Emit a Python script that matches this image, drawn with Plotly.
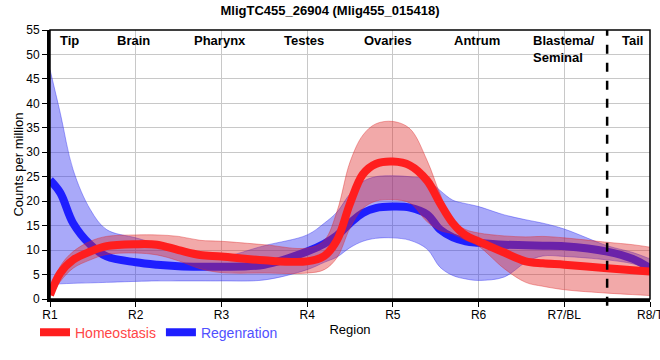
import plotly.graph_objects as go

# Region positions (1 = R1 ... 8 = R8/T) at which the smoothed profiles were read
positions = [1, 1.12, 1.27, 1.47, 1.66, 2, 2.25, 2.5, 2.75, 3, 3.5, 4, 4.2, 4.35, 4.5,
             4.65, 4.8, 5, 5.2, 5.4, 5.55, 5.7, 5.85, 6, 6.3, 6.55, 6.75, 7, 7.5, 7.8, 8]

homeo_mean = [0.8, 5.3, 8.0, 9.7, 10.8, 11.2, 11.1, 10.0, 9.0, 8.7, 7.9, 7.7, 8.8, 12.1, 19.5,
              25.5, 27.6, 28.1, 27.3, 24.2, 19.6, 15.5, 13.0, 11.8, 9.5, 7.7, 7.3, 7.0, 6.3, 5.9, 5.6]
homeo_upper = [1.2, 6.7, 9.7, 11.8, 12.8, 13.1, 13.1, 12.8, 12.0, 11.8, 11.1, 10.4, 12.0, 18.0, 28.0,
               33.5, 35.8, 36.3, 34.8, 28.3, 21.5, 16.0, 14.2, 13.5, 12.9, 12.7, 12.8, 12.5, 11.6, 11.1, 10.6]
homeo_lower = [0.4, 3.6, 6.3, 8.0, 9.1, 9.4, 9.0, 7.8, 6.2, 5.4, 5.3, 5.3, 6.0, 8.5, 14.5,
               18.5, 20.0, 20.3, 19.6, 15.8, 14.0, 13.3, 12.0, 10.8, 6.2, 3.4, 2.6, 1.9, 1.2, 0.9, 0.7]

regen_mean = [24.3, 21.7, 15.5, 11.1, 8.7, 7.5, 7.0, 6.7, 6.6, 6.6, 7.0, 9.7, 11.3, 13.0, 15.5,
              17.6, 18.6, 18.9, 18.7, 17.3, 14.2, 12.6, 11.8, 11.5, 11.1, 11.0, 10.9, 10.8, 9.7, 8.2, 6.3]
regen_upper = [46.9, 38.0, 26.4, 18.3, 14.2, 12.5, 11.3, 10.0, 9.0, 8.6, 10.9, 13.1, 15.5, 17.8, 21.5,
               24.0, 25.0, 25.2, 25.0, 24.4, 22.2, 20.2, 19.5, 18.9, 17.2, 16.2, 15.5, 14.3, 10.9, 9.5, 8.2]
regen_lower = [2.9, 3.1, 3.2, 3.3, 3.4, 3.6, 3.7, 3.7, 3.7, 3.7, 3.9, 6.0, 7.5, 8.6, 10.5,
               11.8, 12.4, 12.5, 12.0, 10.2, 6.5, 4.8, 4.1, 3.8, 4.5, 7.5, 8.8, 8.7, 8.0, 7.2, 6.0]

tick_positions = [1, 2, 3, 4, 5, 6, 7, 8]
tick_labels = ["R1", "R2", "R3", "R4", "R5", "R6", "R7/BL", "R8/T"]

region_names = ["Tip", "Brain", "Pharynx", "Testes", "Ovaries", "Antrum", "Blastema/<br>Seminal", "Tail"]
region_label_pos = [1.23, 1.97, 2.98, 3.96, 4.94, 5.98, 7.0, 7.79]
tail_boundary = 7.5

RED = "rgb(255,30,30)"
BLUE = "rgb(30,30,255)"
RED_BAND = "rgba(222,40,40,0.4)"
BLUE_BAND = "rgba(40,40,240,0.4)"

fig = go.Figure()

# Regeneration band + line
fig.add_trace(go.Scatter(x=positions, y=regen_upper, mode="lines", line=dict(color=BLUE_BAND, width=1, shape="spline"),
                         showlegend=False, hoverinfo="skip"))
fig.add_trace(go.Scatter(x=positions, y=regen_lower, mode="lines", line=dict(color=BLUE_BAND, width=1, shape="spline"),
                         fill="tonexty", fillcolor=BLUE_BAND, showlegend=False, hoverinfo="skip"))
fig.add_trace(go.Scatter(x=positions, y=regen_mean, mode="lines", line=dict(color=BLUE, width=8, shape="spline"),
                         name="<span style='color:rgb(80,80,255)'>Regenration</span>"))

# Homeostasis band + line
fig.add_trace(go.Scatter(x=positions, y=homeo_upper, mode="lines", line=dict(color=RED_BAND, width=1, shape="spline"),
                         showlegend=False, hoverinfo="skip"))
fig.add_trace(go.Scatter(x=positions, y=homeo_lower, mode="lines", line=dict(color=RED_BAND, width=1, shape="spline"),
                         fill="tonexty", fillcolor=RED_BAND, showlegend=False, hoverinfo="skip"))
fig.add_trace(go.Scatter(x=positions, y=homeo_mean, mode="lines", line=dict(color=RED, width=8, shape="spline"),
                         name="<span style='color:rgb(255,70,70)'>Homeostasis</span>"))

for name, pos in zip(region_names, region_label_pos):
    fig.add_annotation(x=pos, y=1, xref="x", yref="paper", text="<b>" + name + "</b>", showarrow=False,
                       xanchor="center", yanchor="top", align="left", yshift=-1,
                       font=dict(size=13, color="black"))

# Tail boundary
fig.add_shape(type="line", x0=tail_boundary, x1=tail_boundary, y0=-0.025, y1=1, xref="x", yref="paper",
              line=dict(color="black", width=2.5, dash="dash"))
# Plot frame (top/right)
fig.add_shape(type="rect", x0=0, x1=1, y0=0, y1=1, xref="paper", yref="paper",
              line=dict(color="black", width=1.5))

fig.update_layout(
    width=660, height=360,
    margin=dict(l=50, r=10, t=30, b=61, autoexpand=False),
    paper_bgcolor="white", plot_bgcolor="white",
    font=dict(family="Liberation Sans, Arial, sans-serif", size=12, color="black"),
    title=dict(text="<b>MligTC455_26904 (Mlig455_015418)</b>", x=0.5, xanchor="center",
               y=1 - 10 / 360, yanchor="middle", font=dict(size=13, color="black")),
    xaxis=dict(range=[1, 8], tickvals=tick_positions, ticktext=tick_labels, showgrid=True,
               gridcolor="rgb(200,200,200)", gridwidth=1, zeroline=False,
               showline=True, linecolor="black", linewidth=3, ticks="outside", ticklen=5,
               tickcolor="black", tickfont=dict(size=12), ticklabelstandoff=-2,
               ticklabeloverflow="allow",
               title=dict(text="Region", font=dict(size=13), standoff=4)),
    yaxis=dict(range=[0, 55], tickvals=list(range(0, 56, 5)), showgrid=True,
               gridcolor="rgb(200,200,200)", gridwidth=1, zeroline=False,
               showline=True, linecolor="black", linewidth=3, ticks="outside", ticklen=5,
               tickcolor="black", tickfont=dict(size=12),
               title=dict(text="Counts per million", font=dict(size=13), standoff=0)),
    legend=dict(orientation="h", x=-0.025, xanchor="left", y=-0.125, yanchor="middle",
                font=dict(size=14), itemwidth=30, bgcolor="rgba(0,0,0,0)", traceorder="reversed"),
    showlegend=True,
)

fig.write_html("out.html", post_script="document.body.style.margin='0px';",
               config={"displayModeBar": False})
